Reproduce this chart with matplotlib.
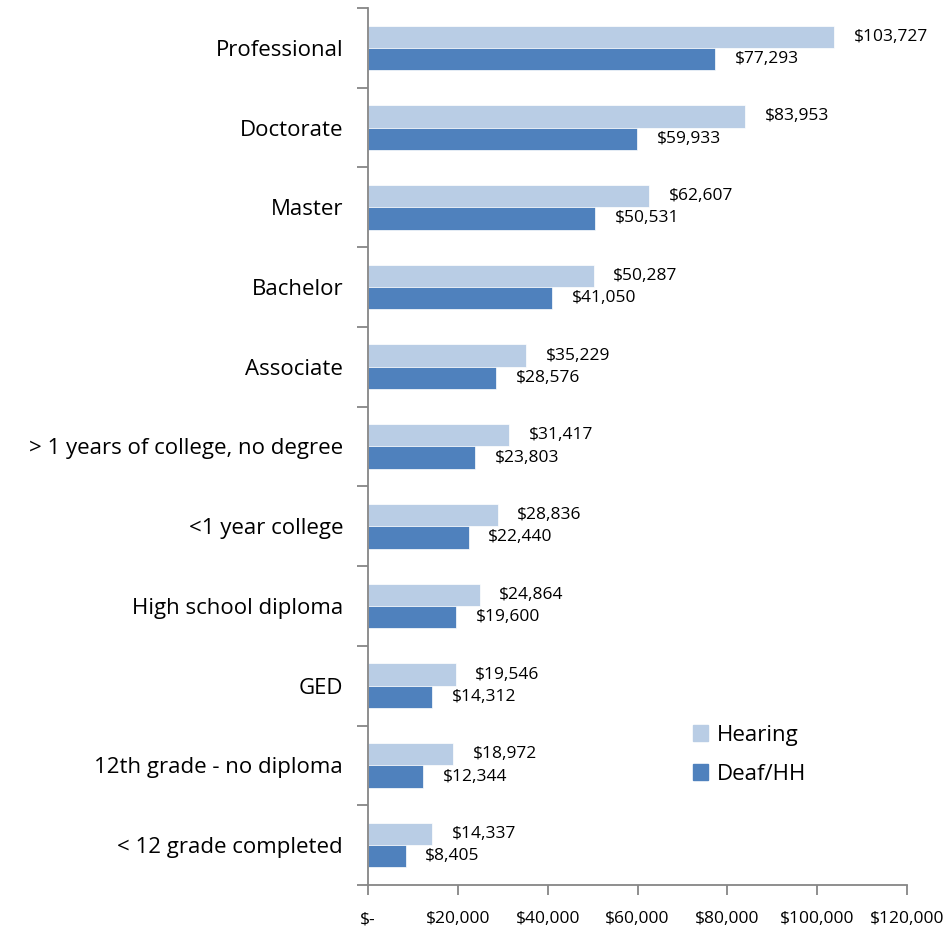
import matplotlib.pyplot as plt
from matplotlib.patches import Patch
import numpy as np

plt.rcParams['font.family'] = ['Open Sans', 'DejaVu Sans']

# categories, top to bottom as in the chart
categories = ['Professional', 'Doctorate', 'Master', 'Bachelor', 'Associate',
              '> 1 years of college, no degree', '<1 year college',
              'High school diploma', 'GED', '12th grade - no diploma',
              '< 12 grade completed']
hearing = [103727, 83953, 62607, 50287, 35229, 31417, 28836, 24864, 19546, 18972, 14337]
deaf_hh = [77293, 59933, 50531, 41050, 28576, 23803, 22440, 19600, 14312, 12344, 8405]
xticks = [0, 20000, 40000, 60000, 80000, 100000, 120000]

c_hear = '#B9CDE5'
c_deaf = '#4F81BD'
grey = '#868686'

fig = plt.figure(figsize=(9.5, 9.34), dpi=100)
ax = fig.add_axes([0.3874, 0.0525, 0.5674, 0.9389])

n = len(categories)
y = np.arange(n)[::-1]
h = 0.28

ax.barh(y, hearing, height=h, align='edge', color=c_hear, edgecolor='white', linewidth=0.5)
ax.barh(y - h, deaf_hh, height=h, align='edge', color=c_deaf, edgecolor='white', linewidth=0.5)

for yi, v in zip(y, hearing):
    ax.annotate(f'${v:,}', (v, yi + h / 2), xytext=(14, 0), textcoords='offset points',
                va='center', ha='left', fontsize=12.5)
for yi, v in zip(y, deaf_hh):
    ax.annotate(f'${v:,}', (v, yi - h / 2), xytext=(14, 0), textcoords='offset points',
                va='center', ha='left', fontsize=12.5)

ax.set_xlim(0, 120000)
ax.set_ylim(-0.5, n - 0.5)
ax.set_xticks(xticks)
ax.set_xticklabels(['$-' if t == 0 else f'${t:,}' for t in xticks], fontsize=12.5)
ax.set_yticks(y)
ax.set_yticklabels(categories, fontsize=16)
ax.set_yticks(np.arange(n + 1) - 0.5, minor=True)

ax.tick_params(axis='y', which='major', length=0, pad=18)
ax.tick_params(axis='y', which='minor', length=8, color=grey, width=1.3)
ax.tick_params(axis='x', length=7, color=grey, width=1.3, pad=12)

for s in ['top', 'right']:
    ax.spines[s].set_visible(False)
for s in ['left', 'bottom']:
    ax.spines[s].set_color(grey)
    ax.spines[s].set_linewidth(1.3)

handles = [Patch(color=c_hear, label='Hearing'), Patch(color=c_deaf, label='Deaf/HH')]
fig.legend(handles=handles, loc='center left', bbox_to_anchor=(0.708, 0.192),
           frameon=False, fontsize=16, handlelength=0.7, handleheight=0.7,
           handletextpad=0.4, labelspacing=0.8)

fig.savefig('out.png', dpi=100)
